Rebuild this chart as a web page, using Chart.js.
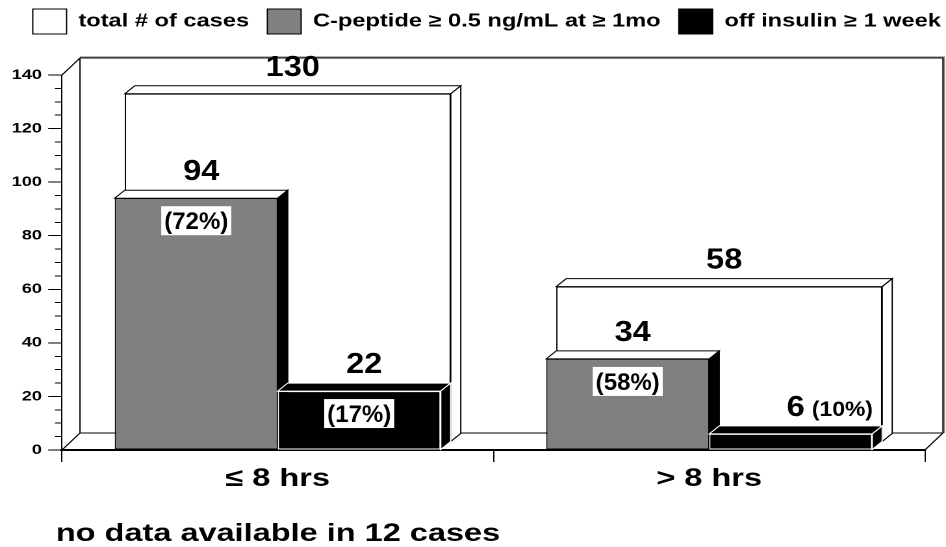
<!DOCTYPE html>
<html>
<head>
<meta charset="utf-8">
<style>
html,body{margin:0;padding:0;background:#fff;overflow:hidden;}
canvas{display:block;}
</style>
<script src="https://cdn.jsdelivr.net/npm/chart.js@4.4.1/dist/chart.umd.min.js"></script>
</head>
<body>
<canvas id="c" width="728" height="547" style="width:946px;height:547px"></canvas>
<script>
// ---------- data ----------
const categories = ['≤ 8 hrs', '> 8 hrs'];
const seriesNames = ['total # of cases', 'C-peptide ≥ 0.5 ng/mL at ≥ 1mo', 'off insulin ≥ 1 week'];
const totalCases = [130, 58];
const cPeptide = [94, 34];
const offInsulin = [22, 6];
const cPeptidePct = ['(72%)', '(58%)'];
const offInsulinPct = ['(17%)', '(10%)'];
const yMin = 0, yMax = 140, yMajorStep = 20, yMinorStep = 5;
const noteText = 'no data available in 12 cases';

// ---------- style ----------
const STRETCH = 946 / 728;          // the picture is horizontally stretched
const FONT = "'Liberation Sans', Arial, Helvetica, sans-serif";
const BAR_DX = 7.7, BAR_DY = 8;      // bar depth
const WALL_DX = 13.85, WALL_DY = 17; // wall/floor depth
const PAD_TOP = -5;
const PAD_RIGHT = -10.1;
const AREA_TOP = 75;
const faceStyles = [
  {top: '#fff', side: '#fff', stroke: '#000'},
  {top: '#fff', side: '#000', stroke: '#000'},
  {top: '#000', side: '#000', stroke: '#fff'}
];

Chart.defaults.font.family = FONT;
Chart.defaults.color = '#000';

const gapPlugin = {
  id: 'legendGap',
  beforeInit(chart) {
    Chart.layouts.addBox(chart, {
      position: 'top', weight: 500, fullSize: true, options: {},
      top: 0, left: 0, right: 0, bottom: 0, width: 0, height: 0,
      isHorizontal() { return true; },
      update(maxWidth) {
        this.width = maxWidth;
        const lh = chart.legend ? chart.legend.height : 47;
        this.height = Math.max(0, AREA_TOP - PAD_TOP - lh);
      },
      draw() {}
    });
  }
};

function txt(ctx, s, x, y, sx, align) {
  ctx.save();
  ctx.translate(x, y);
  ctx.scale(sx, 1);
  ctx.textAlign = align;
  ctx.fillText(s, 0, 0);
  ctx.restore();
}

function drawFaces(chart, index) {
  const ctx = chart.ctx;
  const st = faceStyles[index];
  const meta = chart.getDatasetMeta(index);
  ctx.save();
  ctx.lineWidth = 1;
  ctx.strokeStyle = st.stroke;
  meta.data.forEach(el => {
    const {x, y, base, width} = el.getProps(['x', 'y', 'base', 'width'], true);
    const l = x - width / 2, r = x + width / 2;
    ctx.beginPath();
    ctx.moveTo(l, y); ctx.lineTo(l + BAR_DX, y - BAR_DY);
    ctx.lineTo(r + BAR_DX, y - BAR_DY); ctx.lineTo(r, y); ctx.closePath();
    ctx.fillStyle = st.top; ctx.fill(); ctx.stroke();
    ctx.beginPath();
    ctx.moveTo(r, y); ctx.lineTo(r + BAR_DX, y - BAR_DY);
    ctx.lineTo(r + BAR_DX, base - BAR_DY); ctx.lineTo(r, base); ctx.closePath();
    ctx.fillStyle = st.side; ctx.fill(); ctx.stroke();
  });
  ctx.restore();
}

const threeD = {
  id: 'threeD',
  beforeDatasetsDraw(chart) {
    const ctx = chart.ctx;
    const ys = chart.scales.y;
    const {left, right} = chart.chartArea;
    const top = ys.getPixelForValue(yMax), bottom = ys.getPixelForValue(yMin);
    ctx.save();
    ctx.lineWidth = 1;
    ctx.strokeStyle = '#000';
    ctx.beginPath();
    ctx.moveTo(left, top);
    ctx.lineTo(left + WALL_DX, top - WALL_DY);
    ctx.lineTo(left + WALL_DX, bottom - WALL_DY);
    ctx.lineTo(left, bottom);
    ctx.moveTo(left + WALL_DX, bottom - WALL_DY);
    ctx.lineTo(right + WALL_DX, bottom - WALL_DY);
    ctx.lineTo(right, bottom);
    ctx.stroke();
    ctx.strokeStyle = '#888';
    ctx.lineWidth = 1.2;
    ctx.beginPath();
    ctx.moveTo(left + WALL_DX, top - WALL_DY - 1);
    ctx.lineTo(right + WALL_DX + 1, top - WALL_DY - 1);
    ctx.lineTo(right + WALL_DX + 1, bottom - WALL_DY);
    ctx.stroke();
    ctx.strokeStyle = '#000';
    ctx.lineWidth = 1;
    ctx.beginPath();
    ctx.moveTo(left + WALL_DX, top - WALL_DY);
    ctx.lineTo(right + WALL_DX, top - WALL_DY);
    ctx.lineTo(right + WALL_DX, bottom - WALL_DY);
    ctx.stroke();
    ctx.restore();
  },
  beforeDatasetDraw(chart, args) {
    const ds = chart.data.datasets[args.index];
    if (ds.deferred) return false; // drawn after the bar on its left
    if (ds.back) {
      chart.ctx.save();
      chart.ctx.translate(BAR_DX, -BAR_DY);
    }
  },
  afterDatasetDraw(chart, args) {
    const ds = chart.data.datasets[args.index];
    drawFaces(chart, args.index);
    if (ds.back) chart.ctx.restore();
    if (ds.drawDeferredAfter) {
      chart.data.datasets.forEach((d, i) => {
        if (!d.deferred) return;
        chart.getDatasetMeta(i).controller.draw();
        drawFaces(chart, i);
      });
    }
  },
  afterDatasetsDraw(chart) {
    const ctx = chart.ctx;
    ctx.save();
    ctx.fillStyle = '#000';
    ctx.textBaseline = 'alphabetic';
    chart.data.datasets.forEach((ds, di) => {
      const meta = chart.getDatasetMeta(di);
      const sx = ds.back ? BAR_DX : 0, sy = ds.back ? -BAR_DY : 0;
      meta.data.forEach((el, i) => {
        const {x, y, base} = el.getProps(['x', 'y', 'base'], true);
        const cx = x + sx + BAR_DX / 2;
        const baseLine = y + sy - BAR_DY - 10;
        const val = String(ds.data[i]);
        ctx.font = 'bold 29px ' + FONT;
        const vsx = 1.12 / STRETCH;
        const vw = ctx.measureText(val).width * vsx;
        ctx.fillStyle = '#000';
        txt(ctx, val, cx, baseLine, vsx, 'center');
        if (ds.pct) {
          const p = ds.pct[i];
          if (base - y > 40) {
            ctx.font = 'bold 24px ' + FONT;
            const psx = 1 / STRETCH;
            const pw = ctx.measureText(p).width * psx;
            const bw = pw + 6 / STRETCH, bh = 29;
            const bt = y + 8;
            ctx.fillStyle = '#fff';
            ctx.fillRect(x - bw / 2, bt, bw, bh);
            ctx.fillStyle = '#000';
            txt(ctx, p, x, bt + bh / 2 + 8.5, psx, 'center');
          } else {
            ctx.font = 'bold 21px ' + FONT;
            ctx.fillStyle = '#000';
            txt(ctx, p, cx + vw / 2 + 5.5, baseLine, 1.09 / STRETCH, 'left');
          }
        }
      });
    });
    ctx.restore();
  },
  afterDraw(chart) {
    const ctx = chart.ctx;
    const ys = chart.scales.y;
    const left = chart.chartArea.left;
    ctx.save();
    ctx.strokeStyle = '#000';
    ctx.lineWidth = 1;
    ctx.beginPath();
    for (let v = yMin; v <= yMax; v += yMajorStep) {
      const py = Math.round(ys.getPixelForValue(v) * 2) / 2;
      ctx.moveTo(left - 10.6, py);
      ctx.lineTo(left, py);
    }
    ctx.stroke();
    ctx.fillStyle = '#000';
    ctx.font = 'bold 25px ' + FONT;
    ctx.textAlign = 'left';
    ctx.textBaseline = 'alphabetic';
    ctx.fillText(noteText, 43, 541);
    ctx.restore();
  }
};

const barCommon = {borderWidth: 1, borderSkipped: false, categoryPercentage: 0.7555, barPercentage: 1, clip: false};

new Chart(document.getElementById('c'), {
  type: 'bar',
  data: {
    labels: categories,
    datasets: [
      Object.assign({label: seriesNames[0], data: totalCases, backgroundColor: '#fff', borderColor: '#000', grouped: false, order: 3, back: true}, barCommon),
      Object.assign({label: seriesNames[1], data: cPeptide, backgroundColor: '#808080', borderColor: '#000', order: 1, pct: cPeptidePct, drawDeferredAfter: true}, barCommon),
      Object.assign({label: seriesNames[2], data: offInsulin, backgroundColor: '#000', borderColor: '#fff', order: 2, pct: offInsulinPct, deferred: true}, barCommon)
    ]
  },
  options: {
    responsive: false,
    animation: false,
    devicePixelRatio: 2,
    layout: {padding: {top: PAD_TOP, left: 0, right: PAD_RIGHT, bottom: 0}},
    plugins: {
      tooltip: {enabled: false},
      legend: {
        position: 'top',
        align: 'end',
        labels: {
          boxWidth: 26, boxHeight: 25, padding: 14, color: '#000',
          font: {family: FONT, size: 18.2, weight: 'bold'},
          sort: (a, b) => a.datasetIndex - b.datasetIndex,
          generateLabels(chart) {
            return Chart.defaults.plugins.legend.labels.generateLabels(chart)
              .map(it => Object.assign(it, {strokeStyle: '#000', lineWidth: 1, fontColor: '#000'}));
          }
        }
      }
    },
    scales: {
      x: {
        z: 1,
        grid: {display: true, drawOnChartArea: false, drawTicks: true, tickLength: 12, color: '#000', lineWidth: 1, offset: true},
        border: {display: true, color: '#000', width: 2},
        ticks: {color: '#000', font: {family: FONT, size: 25, weight: 'bold'}, padding: 2, maxRotation: 0},
        afterFit(s) { s.height = 97; }
      },
      y: {
        min: yMin, max: yMax,
        grid: {drawOnChartArea: false, drawTicks: true, tickLength: 5.4, color: '#000', lineWidth: 1},
        border: {display: true, color: '#000', width: 1},
        ticks: {
          stepSize: yMinorStep, autoSkip: false, maxTicksLimit: 100, padding: 10, color: '#000',
          font: {family: FONT, size: 14, weight: 'bold'},
          callback: v => (v % yMajorStep === 0 ? String(v) : '')
        },
        afterFit(s) { s.width = 47.7; }
      },
      yRight: {axis: 'y', position: 'right', display: false, afterFit(s) { s.width = 16.2 - PAD_RIGHT; }}
    }
  },
  plugins: [gapPlugin, threeD]
});
</script>
</body>
</html>
